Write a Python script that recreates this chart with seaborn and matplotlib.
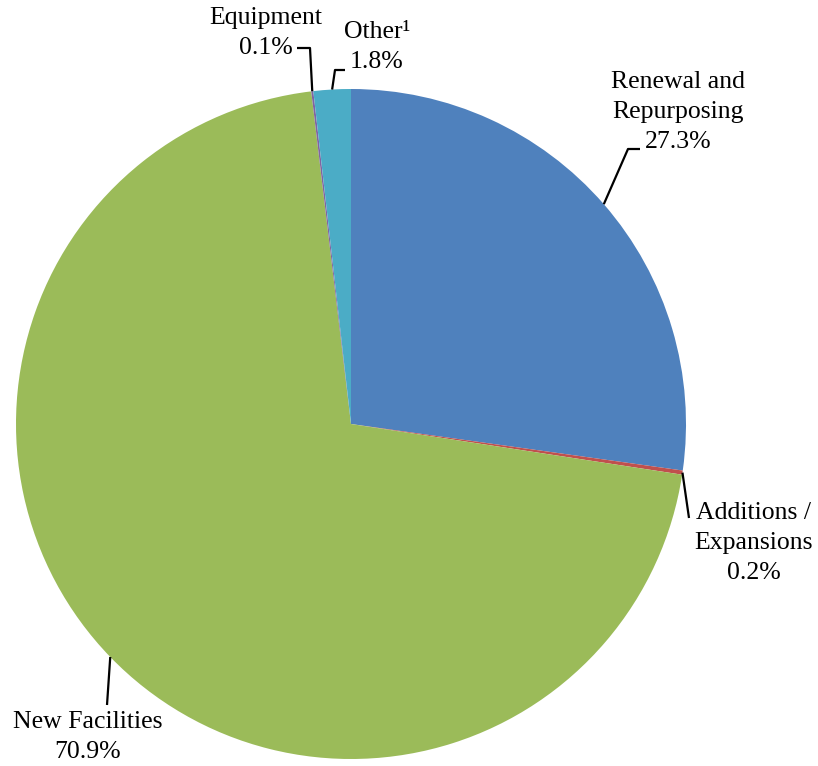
import numpy as np
import matplotlib
matplotlib.use("Agg")
import matplotlib.pyplot as plt
import seaborn as sns

categories = ["Renewal and\nRepurposing", "Additions /\nExpansions", "New Facilities", "Equipment", "Other\u00b9"]
values = [27.3, 0.2, 70.9, 0.1, 1.8]
pct_labels = ["27.3%", "0.2%", "70.9%", "0.1%", "1.8%"]
colors = ["#4F81BD", "#C0504D", "#9BBB59", "#8064A2", "#4BACC6"]

sns.set_style("white")
plt.rcParams['font.family'] = ['Liberation Serif', 'DejaVu Serif']

W, H = 818, 766
fig = plt.figure(figsize=(W / 100, H / 100), dpi=100)
ax = fig.add_axes([0, 0, 1, 1])

cx, cy, R = 351, H - 424, 335
wedges, _ = ax.pie(values, colors=colors, startangle=90, counterclock=False,
                   center=(cx, cy), radius=R, wedgeprops=dict(linewidth=0),
                   frame=True)
ax.set_xlim(0, W)
ax.set_ylim(0, H)
ax.set_aspect("equal")
ax.axis("off")

def P(x, y):
    return (x, H - y)

# anchor points on the rim at the middle of each wedge
mids = [np.deg2rad((w.theta1 + w.theta2) / 2) for w in wedges]
anchors = [(cx + R * np.cos(a), cy + R * np.sin(a)) for a in mids]

fs = 18.5
layout = [
    ((678, 112), [P(628, 149), P(640, 149)]),
    ((754, 543), [P(689, 518)]),
    ((88, 737), [P(107, 705)]),
    ((266, 33), [P(310, 48), P(297, 48)]),
    ((377, 47), [P(335, 70), P(345, 70)]),
]
for i, ((tx, ty), pts) in enumerate(layout):
    txt = categories[i] + "\n" + pct_labels[i]
    ax.text(tx, H - ty, txt, ha="center", va="center", fontsize=fs,
            color="black", linespacing=1.45)
    xs = [anchors[i][0]] + [p[0] for p in pts]
    ys = [anchors[i][1]] + [p[1] for p in pts]
    ax.plot(xs, ys, color="black", lw=1.6, solid_capstyle="butt")

fig.savefig("out.png", dpi=100)
